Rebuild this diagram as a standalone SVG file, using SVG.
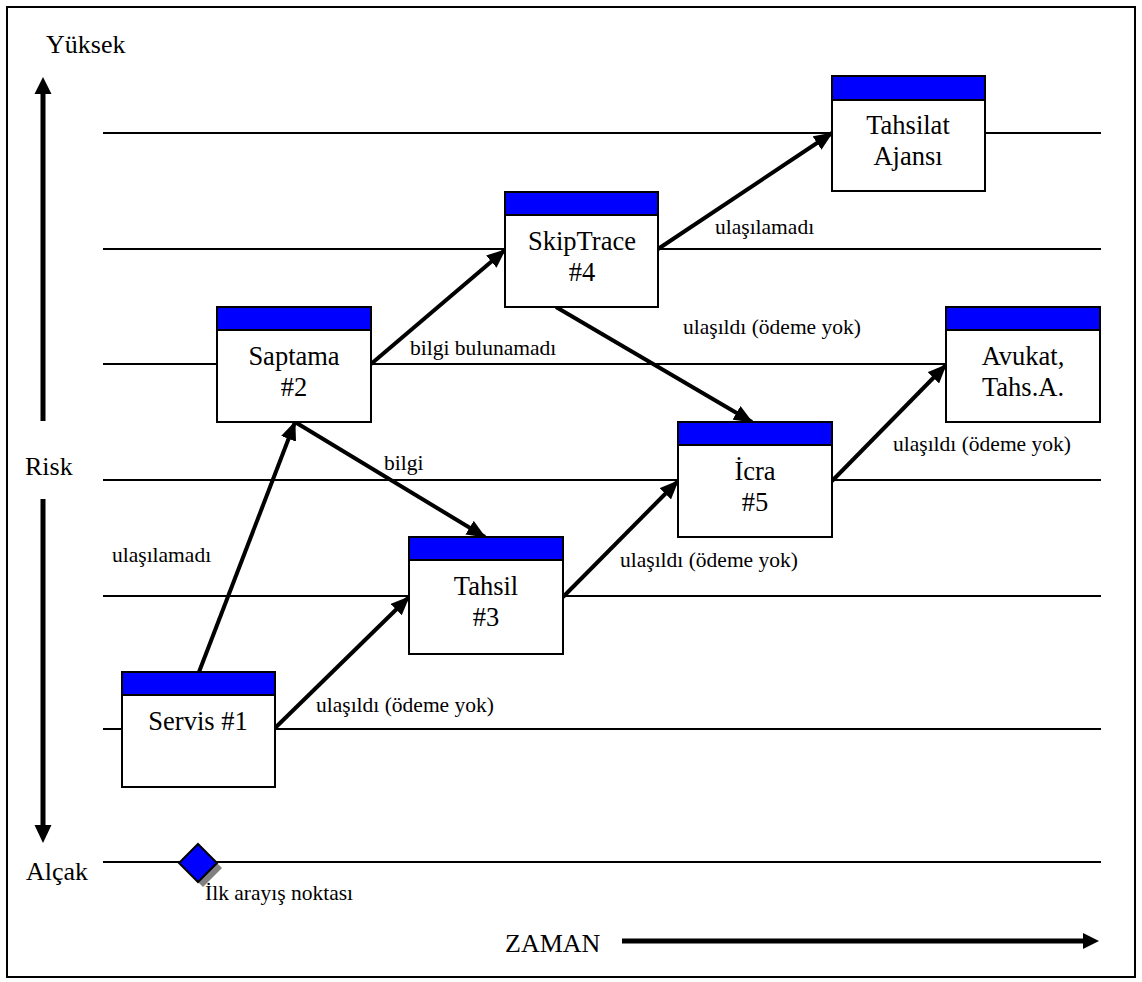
<svg xmlns="http://www.w3.org/2000/svg" width="1142" height="982" viewBox="0 0 1142 982">
  <style>
    .lane { stroke: #000; stroke-width: 2; fill: none; }
    .box { fill: #fff; stroke: #000; stroke-width: 2; }
    .hdr { fill: #0000ff; stroke: #000; stroke-width: 2; }
    text { font-family: 'Liberation Serif', 'Times New Roman', Times, serif; fill: #000; }
    .name { font-size: 26.5px; text-anchor: middle; }
    .axis { font-size: 26px; }
    .lbl { font-size: 21.5px; }
    .flow { stroke: #000; stroke-width: 4; fill: none; marker-end: url(#head); }
    .bold { stroke: #000; stroke-width: 5; fill: none; }
  </style>
  <defs>
    <marker id="head" markerUnits="userSpaceOnUse" markerWidth="20" markerHeight="16" refX="18" refY="8" orient="auto">
      <path d="M0,0 L19,8 L0,16 Z" fill="#000"/>
    </marker>
  </defs>

  <rect x="0" y="0" width="1142" height="982" fill="#fff"/>
  <rect x="7" y="7" width="1128" height="970" fill="none" stroke="#000" stroke-width="2"/>

  <!-- risk levels -->
  <g id="lanes">
    <line class="lane" x1="103" y1="133" x2="1101" y2="133"/>
    <line class="lane" x1="103" y1="249" x2="1101" y2="249"/>
    <line class="lane" x1="103" y1="364" x2="1101" y2="364"/>
    <line class="lane" x1="103" y1="480" x2="1101" y2="480"/>
    <line class="lane" x1="103" y1="596" x2="1101" y2="596"/>
    <line class="lane" x1="103" y1="729" x2="1101" y2="729"/>
    <line class="lane" x1="103" y1="862" x2="1101" y2="862"/>
  </g>

  <!-- vertical risk axis -->
  <g id="risk-axis">
    <text class="axis" x="46" y="53">Yüksek</text>
    <line class="bold" x1="43" y1="421" x2="43" y2="92"/>
    <path d="M34.5,94 L43,77 L51.5,94 Z" fill="#000"/>
    <text class="axis" x="25" y="475">Risk</text>
    <line class="bold" x1="43" y1="499" x2="43" y2="827"/>
    <path d="M34.5,825 L43,843 L51.5,825 Z" fill="#000"/>
    <text class="axis" x="26" y="880">Alçak</text>
  </g>

  <!-- time axis -->
  <g id="time-axis">
    <text class="axis" x="505" y="952">ZAMAN</text>
    <line class="bold" x1="622" y1="941" x2="1085" y2="941"/>
    <path d="M1083,933 L1099,941 L1083,949 Z" fill="#000"/>
  </g>

  <!-- starting point -->
  <g id="start">
    <path d="M203,849 L222,868 L203,887 L184,868 Z" fill="#808080"/>
    <path d="M198,844 L217,863 L198,882 L179,863 Z" fill="#0000ff" stroke="#000" stroke-width="2"/>
    <text class="lbl" x="205" y="900">İlk arayış noktası</text>
  </g>

  <!-- connectors -->
  <g id="connectors">
    <line class="flow" x1="199" y1="672" x2="295" y2="422"/>
    <line class="flow" x1="274" y1="729" x2="409" y2="597"/>
    <line class="flow" x1="295" y1="422" x2="485" y2="537"/>
    <line class="flow" x1="371" y1="364" x2="505" y2="250"/>
    <line class="flow" x1="563" y1="597" x2="678" y2="481"/>
    <line class="flow" x1="556" y1="307" x2="752" y2="422"/>
    <line class="flow" x1="658" y1="249" x2="832" y2="133"/>
    <line class="flow" x1="832" y1="481" x2="946" y2="365"/>
    <text class="lbl" x="112" y="562">ulaşılamadı</text>
    <text class="lbl" x="316" y="712">ulaşıldı (ödeme yok)</text>
    <text class="lbl" x="384" y="470">bilgi</text>
    <text class="lbl" x="410" y="355">bilgi bulunamadı</text>
    <text class="lbl" x="620" y="567">ulaşıldı (ödeme yok)</text>
    <text class="lbl" x="683" y="334">ulaşıldı (ödeme yok)</text>
    <text class="lbl" x="715" y="234">ulaşılamadı</text>
    <text class="lbl" x="893" y="451">ulaşıldı (ödeme yok)</text>
  </g>

  <!-- process steps -->
  <g id="servis">
    <rect class="box" x="122" y="672" width="153" height="115"/>
    <rect class="hdr" x="122" y="672" width="153" height="23"/>
    <text class="name" x="198" y="730">Servis #1</text>
  </g>
  <g id="saptama">
    <rect class="box" x="217" y="307" width="154" height="115"/>
    <rect class="hdr" x="217" y="307" width="154" height="23"/>
    <text class="name" x="294" y="365">Saptama</text>
    <text class="name" x="294" y="396">#2</text>
  </g>
  <g id="tahsil">
    <rect class="box" x="409" y="537" width="154" height="117"/>
    <rect class="hdr" x="409" y="537" width="154" height="23"/>
    <text class="name" x="486" y="595">Tahsil</text>
    <text class="name" x="486" y="626">#3</text>
  </g>
  <g id="skiptrace">
    <rect class="box" x="505" y="192" width="153" height="115"/>
    <rect class="hdr" x="505" y="192" width="153" height="23"/>
    <text class="name" x="582" y="250">SkipTrace</text>
    <text class="name" x="582" y="281">#4</text>
  </g>
  <g id="icra">
    <rect class="box" x="678" y="422" width="154" height="115"/>
    <rect class="hdr" x="678" y="422" width="154" height="23"/>
    <text class="name" x="755" y="480">İcra</text>
    <text class="name" x="755" y="511">#5</text>
  </g>
  <g id="tahsilat-ajansi">
    <rect class="box" x="832" y="76" width="153" height="115"/>
    <rect class="hdr" x="832" y="76" width="153" height="24"/>
    <text class="name" x="908" y="134">Tahsilat</text>
    <text class="name" x="908" y="165">Ajansı</text>
  </g>
  <g id="avukat">
    <rect class="box" x="946" y="307" width="154" height="115"/>
    <rect class="hdr" x="946" y="307" width="154" height="23"/>
    <text class="name" x="1023" y="365">Avukat,</text>
    <text class="name" x="1023" y="396">Tahs.A.</text>
  </g>
</svg>
